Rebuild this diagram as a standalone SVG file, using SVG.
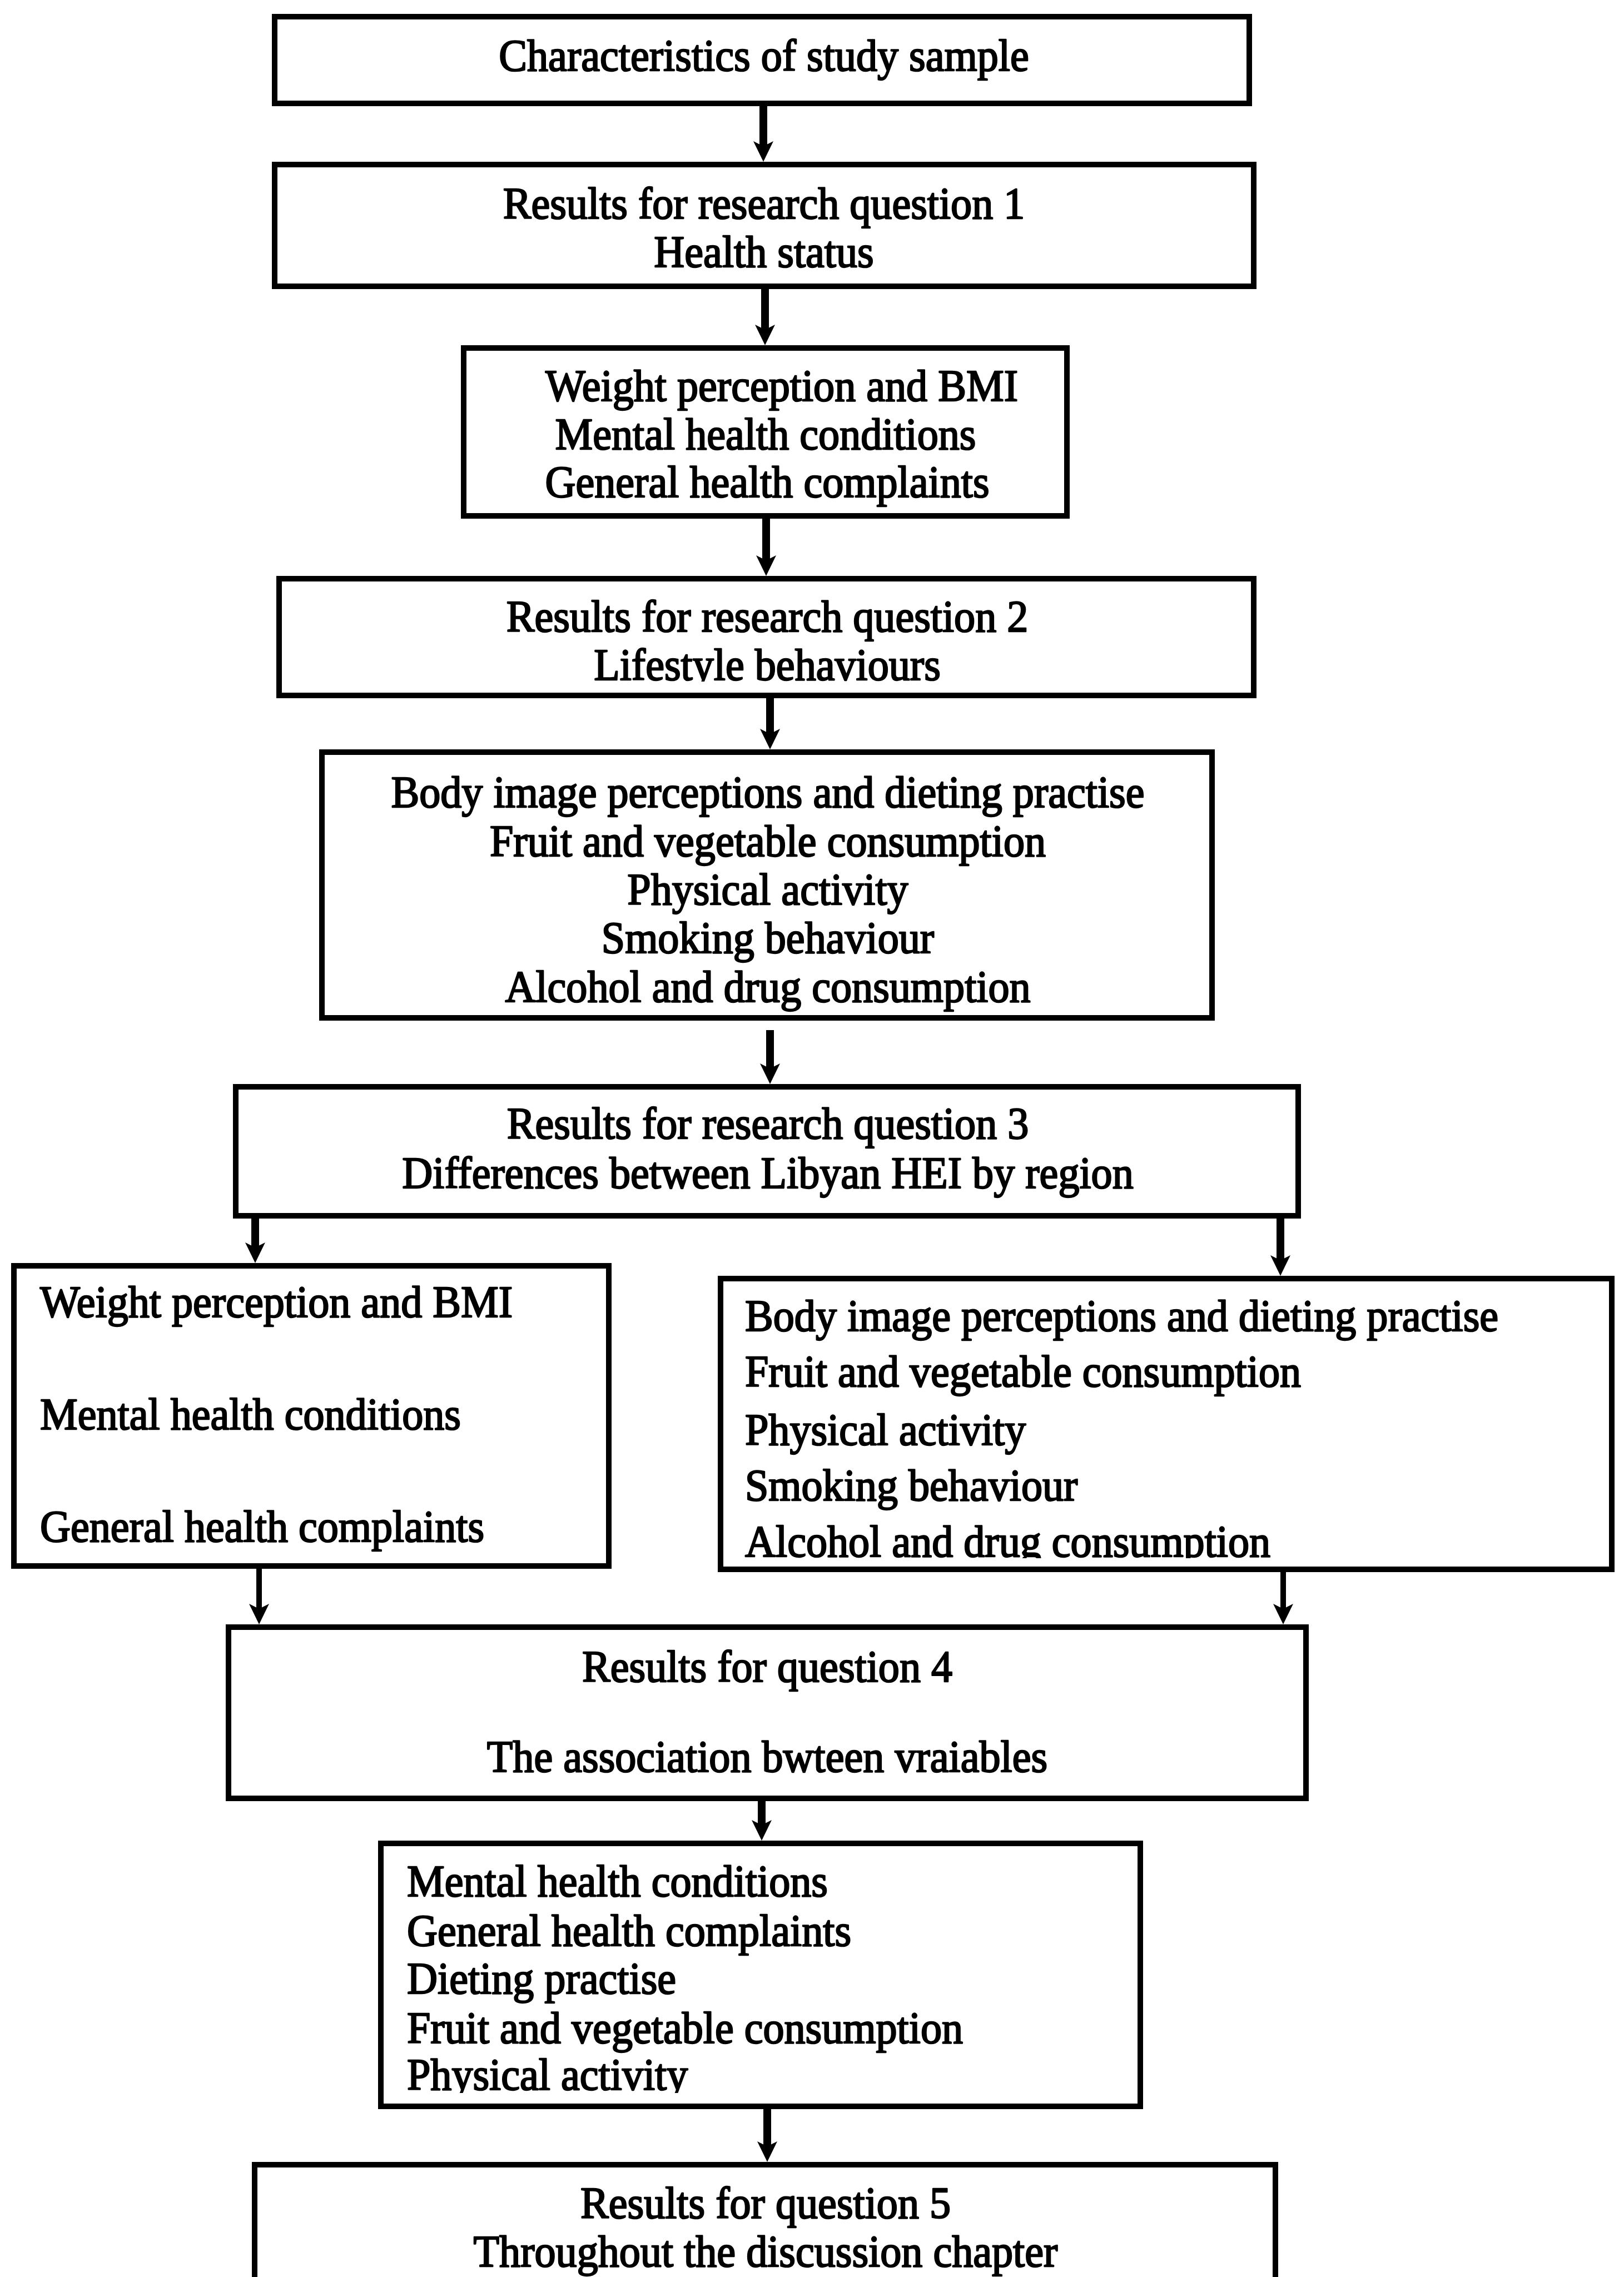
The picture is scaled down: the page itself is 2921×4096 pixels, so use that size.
<svg xmlns="http://www.w3.org/2000/svg" width="2921" height="4096" viewBox="0 0 2921 4096">
<style>
.box{fill:#fff;stroke:#000;stroke-width:10}
.t{font-family:"Liberation Serif","Times New Roman",serif;font-size:81px;fill:#000;stroke:#000;stroke-width:2.5;stroke-linejoin:round}
.m{text-anchor:middle}
.s{text-anchor:start}
.c{stroke:#000;stroke-width:14;fill:none;marker-end:url(#ah)}
.thin{stroke-width:10}
</style>
<defs>
<marker id="ah" markerUnits="userSpaceOnUse" viewBox="0 0 37 36" markerWidth="37" markerHeight="36" refX="9" refY="18" orient="auto">
<path d="M0,0 L37,18 L0,36 L9,18 Z" fill="#000"/>
</marker>
<clipPath id="clip4"><rect x="0" y="1040" width="2921" height="186"/></clipPath>
<clipPath id="clip8"><rect x="0" y="2300" width="2921" height="503"/></clipPath>
<clipPath id="clip10"><rect x="0" y="3316" width="2921" height="449"/></clipPath>
</defs>
<rect x="0" y="0" width="2921" height="4096" fill="#fff"/>

<g id="n1">
<rect class="box" x="494" y="30" width="1753" height="156"/>
<text class="t m" transform="translate(1374 0) scale(0.94 1)"><tspan x="0" y="127">Characteristics of study sample</tspan></text>
</g>

<g id="n2">
<rect class="box" x="494" y="296" width="1761" height="219"/>
<text class="t m" transform="translate(1374 0) scale(0.94 1)"><tspan x="0" y="393">Results for research question 1</tspan><tspan x="0" y="480">Health status</tspan></text>
</g>

<g id="n3">
<rect class="box" x="834" y="626" width="1085" height="302"/>
<text class="t m" transform="translate(1406 0) scale(0.94 1)"><tspan x="0" y="721">Weight perception and BMI</tspan></text>
<text class="t m" transform="translate(1377 0) scale(0.94 1)"><tspan x="0" y="808">Mental health conditions</tspan></text>
<text class="t m" transform="translate(1380 0) scale(0.94 1)"><tspan x="0" y="894">General health complaints</tspan></text>
</g>

<g id="n4">
<rect class="box" x="502" y="1041" width="1753" height="210"/>
<text class="t m" transform="translate(1380 0) scale(0.94 1)"><tspan x="0" y="1136">Results for research question 2</tspan></text>
<g clip-path="url(#clip4)"><text class="t m" transform="translate(1380 0) scale(0.94 1)"><tspan x="0" y="1223">Lifestyle behaviours</tspan></text></g>
</g>

<g id="n5">
<rect class="box" x="579" y="1353" width="1601" height="478"/>
<text class="t m" transform="translate(1381 0) scale(0.94 1)"><tspan x="0" y="1452">Body image perceptions and dieting practise</tspan><tspan x="0" y="1540">Fruit and vegetable consumption</tspan><tspan x="0" y="1627">Physical activity</tspan><tspan x="0" y="1714">Smoking behaviour</tspan><tspan x="0" y="1802">Alcohol and drug consumption</tspan></text>
</g>

<g id="n6">
<rect class="box" x="424" y="1955" width="1911" height="232"/>
<text class="t m" transform="translate(1381 0) scale(0.94 1)"><tspan x="0" y="2048">Results for research question 3</tspan><tspan x="0" y="2137">Differences between Libyan HEI by region</tspan></text>
</g>

<g id="n7">
<rect class="box" x="25" y="2277" width="1070" height="540"/>
<text class="t s" transform="translate(72 0) scale(0.94 1)"><tspan x="0" y="2369">Weight perception and BMI</tspan><tspan x="0" y="2571">Mental health conditions</tspan><tspan x="0" y="2773">General health complaints</tspan></text>
</g>

<g id="n8">
<rect class="box" x="1296" y="2300" width="1603" height="523"/>
<text class="t s" transform="translate(1340 0) scale(0.94 1)"><tspan x="0" y="2394">Body image perceptions and dieting practise</tspan><tspan x="0" y="2494">Fruit and vegetable consumption</tspan><tspan x="0" y="2599">Physical activity</tspan><tspan x="0" y="2699">Smoking behaviour</tspan></text>
<g clip-path="url(#clip8)"><text class="t s" transform="translate(1340 0) scale(0.94 1)"><tspan x="0" y="2800">Alcohol and drug consumption</tspan></text></g>
</g>

<g id="n9">
<rect class="box" x="411" y="2927" width="1938" height="308"/>
<text class="t m" transform="translate(1380 0) scale(0.94 1)"><tspan x="0" y="3025">Results for question 4</tspan><tspan x="0" y="3187">The association bwteen vraiables</tspan></text>
</g>

<g id="n10">
<rect class="box" x="685" y="3316" width="1366" height="473"/>
<text class="t s" transform="translate(732 0) scale(0.94 1)"><tspan x="0" y="3411">Mental health conditions</tspan><tspan x="0" y="3500">General health complaints</tspan><tspan x="0" y="3586">Dieting practise</tspan><tspan x="0" y="3675">Fruit and vegetable consumption</tspan></text>
<g clip-path="url(#clip10)"><text class="t s" transform="translate(732 0) scale(0.94 1)"><tspan x="0" y="3759">Physical activity</tspan></text></g>
</g>

<g id="n11">
<rect class="box" x="458" y="3894" width="1836" height="300"/>
<text class="t m" transform="translate(1377 0) scale(0.94 1)"><tspan x="0" y="3990">Results for question 5</tspan><tspan x="0" y="4077">Throughout the discussion chapter</tspan></text>
</g>

<g id="connectors">
<path class="c" d="M1373,191 V263"/>
<path class="c" d="M1376,520 V593"/>
<path class="c" d="M1378,933 V1008"/>
<path class="c" d="M1385,1256 V1320"/>
<path class="c" d="M1385,1853 V1922"/>
<path class="c" d="M459,2192 V2244"/>
<path class="c" d="M2303,2192 V2267"/>
<path class="c thin" d="M466,2822 V2894"/>
<path class="c thin" d="M2308,2828 V2894"/>
<path class="c" d="M1370,3240 V3283"/>
<path class="c" d="M1380,3794 V3861"/>
</g>
</svg>
